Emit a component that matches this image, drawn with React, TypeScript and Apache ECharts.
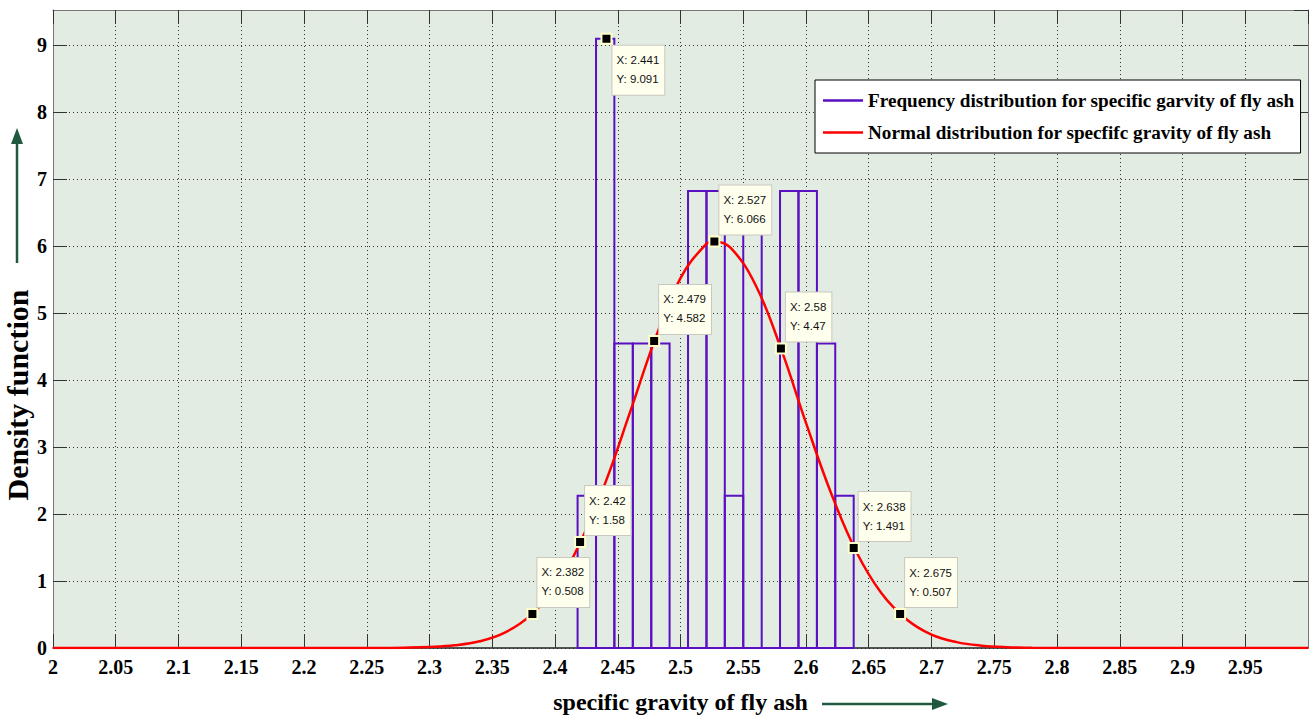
import React, { useEffect, useRef } from "react";
import * as echarts from "echarts";

// Histogram bin edges (16 edges -> 15 bins) and bar heights (density)
const binEdges = [2.418, 2.4327, 2.4473, 2.462, 2.4767, 2.4913, 2.506, 2.5207, 2.5353, 2.55, 2.5647, 2.5793, 2.594, 2.6087, 2.6233, 2.638];
const binHeights = [2.273, 9.091, 4.545, 4.545, 4.545, 0, 6.818, 6.818, 2.273, 6.818, 0, 6.818, 6.818, 4.545, 2.273];

// Normal distribution curve
const curveX = [2.0, 2.26, 2.28, 2.3, 2.32, 2.34, 2.36, 2.38, 2.4, 2.42, 2.44, 2.46, 2.48, 2.5, 2.52, 2.527, 2.54, 2.56, 2.58, 2.6, 2.62, 2.64, 2.66, 2.68, 2.7, 2.72, 2.74, 2.76, 2.78, 2.8, 3.0];
const curveY = [0, 0.001, 0.005, 0.015, 0.04, 0.1, 0.23, 0.48, 0.9, 1.57, 2.46, 3.53, 4.62, 5.52, 6.02, 6.066, 5.97, 5.41, 4.47, 3.36, 2.31, 1.44, 0.82, 0.43, 0.2, 0.088, 0.035, 0.012, 0.004, 0.001, 0];

// Data tips
const tipX = [2.382, 2.42, 2.441, 2.479, 2.527, 2.58, 2.638, 2.675];
const tipY = [0.508, 1.58, 9.091, 4.582, 6.066, 4.47, 1.491, 0.507];
const tipBelow = [false, false, true, false, false, false, false, false];

const histName = "Frequency distribution for specific garvity of fly ash";
const normName = "Normal distribution for specfifc gravity of fly ash";
const xName = "specific gravity of fly ash";
const yName = "Density function";

const PURPLE = "#5a10c0";
const RED = "#ff0000";
const GREEN = "#1f5a3f";
const SERIF = "'Liberation Serif', 'Times New Roman', serif";

export default function App() {
  const ref = useRef<HTMLDivElement>(null);
  useEffect(() => {
    if (!ref.current) return;
    const chart = echarts.init(ref.current, null, { renderer: "svg" });
    const dotted = { show: true, lineStyle: { color: "#333", width: 1, type: [1, 3] as any } };
    const tickStyle = { show: true, inside: true, length: 14, lineStyle: { color: "#333", width: 1 } };
    const labelStyle = { fontFamily: SERIF, fontWeight: "bold" as const, fontSize: 20, color: "#000" };

    const histData = binHeights.map((h, i) => [binEdges[i], binEdges[i + 1], h]);
    const curveData = curveX.map((x, i) => [x, curveY[i]]);
    const tipData = tipX.map((x, i) => ({
      value: [x, tipY[i]],
      label: { position: tipBelow[i] ? [12, 13] : [11, -50] },
    }));

    chart.setOption({
      animation: false,
      grid: {
        left: 53, right: 2, top: 10, bottom: 71,
        show: true, backgroundColor: "#e2ece3", borderWidth: 0,
      },
      legend: {
        data: [histName, normName],
        orient: "vertical",
        left: 815, top: 80,
        backgroundColor: "#fff",
        borderColor: "#000",
        borderWidth: 1,
        padding: [11, 6, 11, 8],
        itemGap: 13,
        itemWidth: 40,
        itemHeight: 2.5,
        icon: "rect",
        selectedMode: false,
        textStyle: { fontFamily: SERIF, fontWeight: "bold", fontSize: 19.2, color: "#000" },
      },
      xAxis: [
        {
          type: "value", min: 2, max: 3, interval: 0.05, position: "bottom",
          name: xName, nameLocation: "middle", nameGap: 42,
          nameTextStyle: { fontFamily: SERIF, fontWeight: "bold", fontSize: 24, color: "#000" },
          axisLine: { show: true, onZero: false, lineStyle: { color: "#222", width: 1.5 } },
          axisTick: tickStyle,
          axisLabel: {
            ...labelStyle, margin: 9, showMaxLabel: false,
            formatter: (v: number) => String(parseFloat(v.toFixed(2))),
          },
          splitLine: dotted,
        },
        {
          type: "value", min: 2, max: 3, interval: 0.05, position: "top",
          axisLine: { show: true, onZero: false, lineStyle: { color: "#777", width: 1 } },
          axisTick: tickStyle,
          axisLabel: { show: false },
          splitLine: { show: false },
        },
      ],
      yAxis: [
        {
          type: "value", min: 0, max: 9.52, interval: 1, position: "left",
          axisLine: { show: true, onZero: false, lineStyle: { color: "#777", width: 1 } },
          axisTick: tickStyle,
          axisLabel: { ...labelStyle, margin: 6, showMaxLabel: false },
          splitLine: dotted,
        },
        {
          type: "value", min: 0, max: 9.52, interval: 1, position: "right",
          axisLine: { show: true, onZero: false, lineStyle: { color: "#777", width: 1 } },
          axisTick: tickStyle,
          axisLabel: { show: false },
          splitLine: { show: false },
        },
      ],
      graphic: [
        {
          type: "text", x: 17, y: 395, rotation: Math.PI / 2,
          style: {
            text: yName, fontFamily: SERIF, fontWeight: "bold", fontSize: 30,
            fill: "#000", align: "center", verticalAlign: "middle",
          },
        },
        { type: "line", shape: { x1: 17, y1: 263, x2: 17, y2: 140 }, style: { stroke: GREEN, lineWidth: 2.5 } },
        { type: "polygon", shape: { points: [[17, 128], [11, 144], [23, 144]] }, style: { fill: GREEN } },
        { type: "line", shape: { x1: 822, y1: 704, x2: 935, y2: 704 }, style: { stroke: GREEN, lineWidth: 2.5 } },
        { type: "polygon", shape: { points: [[948, 704], [932, 698], [932, 710]] }, style: { fill: GREEN } },
      ],
      series: [
        {
          name: histName,
          type: "custom",
          xAxisIndex: 0, yAxisIndex: 0,
          itemStyle: { color: PURPLE },
          encode: { x: [0, 1], y: 2 },
          data: histData,
          z: 2,
          renderItem: (params: any, api: any) => {
            const x0 = api.value(0), x1 = api.value(1), h = api.value(2);
            const p0 = api.coord([x0, 0]);
            const p1 = api.coord([x0, h]);
            const p2 = api.coord([x1, h]);
            const p3 = api.coord([x1, 0]);
            return {
              type: "polygon",
              shape: { points: [p0, p1, p2, p3] },
              style: { fill: "none", stroke: PURPLE, lineWidth: 2 },
            };
          },
        },
        {
          name: normName,
          type: "line",
          xAxisIndex: 0, yAxisIndex: 0,
          data: curveData,
          smooth: 0.4,
          showSymbol: false,
          lineStyle: { color: RED, width: 2.5 },
          itemStyle: { color: RED },
          z: 3,
        },
        {
          name: "tips",
          type: "scatter",
          xAxisIndex: 0, yAxisIndex: 0,
          data: tipData,
          symbol: "rect",
          symbolSize: 10,
          itemStyle: { color: "#000", borderColor: "#ffffcc", borderWidth: 2, opacity: 1 },
          z: 10,
          label: {
            show: true,
            formatter: (p: any) => `X: ${p.value[0]}\nY: ${p.value[1]}`,
            fontFamily: "'Liberation Sans', Arial, sans-serif",
            fontSize: 11.5,
            lineHeight: 19,
            color: "#111",
            backgroundColor: "#ffffee",
            borderColor: "#c8c8c0",
            borderWidth: 1,
            padding: [5, 5, 6, 4],
            align: "left",
            verticalAlign: "top",
          },
          emphasis: { disabled: true },
        },
      ],
    });
    return () => chart.dispose();
  }, []);
  return (
    <div
      ref={ref}
      style={{ position: "fixed", left: 0, top: 0, width: 1310, height: 719, background: "#fff" }}
    />
  );
}
